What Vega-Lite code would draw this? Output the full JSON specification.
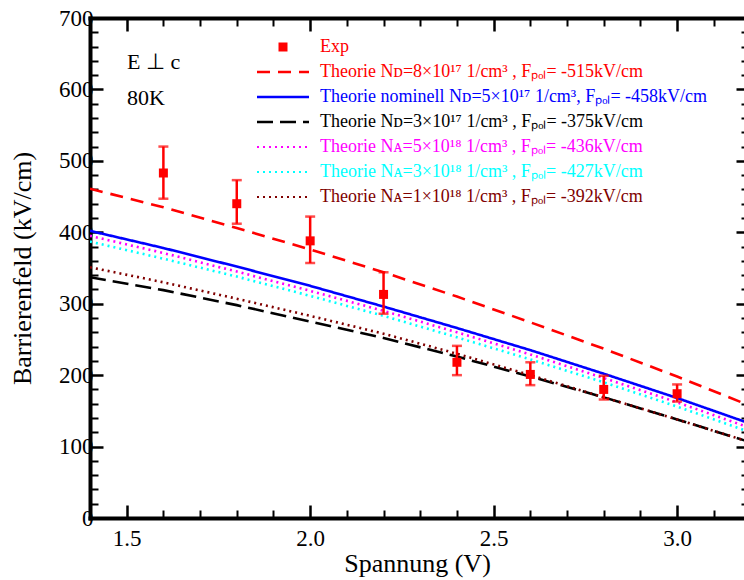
{
  "$schema": "https://vega.github.io/schema/vega-lite/v6.json",
  "width": 654,
  "height": 500,
  "autosize": {"type": "none"},
  "padding": {"left": 90, "top": 18, "right": 0, "bottom": 62},
  "background": "white",
  "config": {
    "view": {"stroke": null},
    "axis": {
      "grid": false,
      "domainColor": "black",
      "domainWidth": 4,
      "domainCap": "square",
      "tickColor": "black",
      "tickWidth": 2.5,
      "labelFont": "Liberation Serif",
      "labelFontSize": 23,
      "labelColor": "black",
      "titleFont": "Liberation Serif",
      "titleFontSize": 26,
      "titleFontWeight": "normal",
      "titleColor": "black"
    },
    "legend": {
      "labelFont": "Liberation Serif",
      "labelFontSize": 18,
      "symbolSize": 400,
      "symbolType": "M-2.6,0H2.6",
      "rowPadding": 7,
      "labelOffset": 28,
      "padding": 0,
      "labelLimit": 600
    }
  },
  "datasets": {
    "theory": [
      {"V": 1.4, "kV": 461, "s": "T1"}, {"V": 1.6, "kV": 435, "s": "T1"}, {"V": 1.8, "kV": 406, "s": "T1"}, {"V": 2.0, "kV": 376, "s": "T1"}, {"V": 2.2, "kV": 344, "s": "T1"},
      {"V": 2.4, "kV": 310, "s": "T1"}, {"V": 2.6, "kV": 274, "s": "T1"}, {"V": 2.8, "kV": 237, "s": "T1"}, {"V": 3.0, "kV": 198, "s": "T1"}, {"V": 3.2, "kV": 157, "s": "T1"},
      {"V": 1.4, "kV": 402, "s": "T2"}, {"V": 1.6, "kV": 378, "s": "T2"}, {"V": 1.8, "kV": 352, "s": "T2"}, {"V": 2.0, "kV": 325, "s": "T2"}, {"V": 2.2, "kV": 296, "s": "T2"},
      {"V": 2.4, "kV": 266, "s": "T2"}, {"V": 2.6, "kV": 235, "s": "T2"}, {"V": 2.8, "kV": 202, "s": "T2"}, {"V": 3.0, "kV": 168, "s": "T2"}, {"V": 3.2, "kV": 132, "s": "T2"},
      {"V": 1.4, "kV": 337, "s": "T3"}, {"V": 1.6, "kV": 319, "s": "T3"}, {"V": 1.8, "kV": 298, "s": "T3"}, {"V": 2.0, "kV": 275, "s": "T3"}, {"V": 2.2, "kV": 252, "s": "T3"},
      {"V": 2.4, "kV": 226, "s": "T3"}, {"V": 2.6, "kV": 198, "s": "T3"}, {"V": 2.8, "kV": 169, "s": "T3"}, {"V": 3.0, "kV": 138, "s": "T3"}, {"V": 3.2, "kV": 106, "s": "T3"},
      {"V": 1.4, "kV": 395, "s": "T4"}, {"V": 1.6, "kV": 371, "s": "T4"}, {"V": 1.8, "kV": 345, "s": "T4"}, {"V": 2.0, "kV": 318, "s": "T4"}, {"V": 2.2, "kV": 290, "s": "T4"},
      {"V": 2.4, "kV": 260, "s": "T4"}, {"V": 2.6, "kV": 229, "s": "T4"}, {"V": 2.8, "kV": 196, "s": "T4"}, {"V": 3.0, "kV": 162, "s": "T4"}, {"V": 3.2, "kV": 126, "s": "T4"},
      {"V": 1.4, "kV": 387, "s": "T5"}, {"V": 1.6, "kV": 363, "s": "T5"}, {"V": 1.8, "kV": 338, "s": "T5"}, {"V": 2.0, "kV": 311, "s": "T5"}, {"V": 2.2, "kV": 283, "s": "T5"},
      {"V": 2.4, "kV": 253, "s": "T5"}, {"V": 2.6, "kV": 222, "s": "T5"}, {"V": 2.8, "kV": 190, "s": "T5"}, {"V": 3.0, "kV": 156, "s": "T5"}, {"V": 3.2, "kV": 120, "s": "T5"},
      {"V": 1.4, "kV": 351, "s": "T6"}, {"V": 1.6, "kV": 330, "s": "T6"}, {"V": 1.8, "kV": 307, "s": "T6"}, {"V": 2.0, "kV": 283, "s": "T6"}, {"V": 2.2, "kV": 258, "s": "T6"},
      {"V": 2.4, "kV": 230, "s": "T6"}, {"V": 2.6, "kV": 200, "s": "T6"}, {"V": 2.8, "kV": 169, "s": "T6"}, {"V": 3.0, "kV": 138, "s": "T6"}, {"V": 3.2, "kV": 106, "s": "T6"}
    ],
    "exp": [
      {"V": 1.6, "kV": 483, "lo": 447, "hi": 520, "s": "Exp"},
      {"V": 1.8, "kV": 440, "lo": 412, "hi": 473, "s": "Exp"},
      {"V": 2.0, "kV": 388, "lo": 357, "hi": 422, "s": "Exp"},
      {"V": 2.2, "kV": 313, "lo": 286, "hi": 344, "s": "Exp"},
      {"V": 2.4, "kV": 218, "lo": 200, "hi": 241, "s": "Exp"},
      {"V": 2.6, "kV": 201, "lo": 186, "hi": 218, "s": "Exp"},
      {"V": 2.8, "kV": 180, "lo": 166, "hi": 199, "s": "Exp"},
      {"V": 3.0, "kV": 174, "lo": 163, "hi": 187, "s": "Exp"}
    ]
  },
  "resolve": {"axis": {"x": "independent", "y": "independent"}},
  "layer": [
    {
      "data": {"name": "theory"},
      "mark": {"type": "line", "clip": true},
      "encoding": {
        "x": {"field": "V", "type": "quantitative",
          "scale": {"domain": [1.4, 3.1823], "nice": false, "zero": false},
          "axis": {"orient": "bottom", "values": [1.5, 2.0, 2.5, 3.0], "format": ".1f", "tickSize": -13, "labelPadding": 22, "title": "Spannung (V)", "titlePadding": 0}},
        "y": {"field": "kV", "type": "quantitative",
          "scale": {"domain": [0, 700], "nice": false, "zero": false},
          "axis": {"orient": "left", "values": [0, 100, 200, 300, 400, 500, 600, 700], "tickSize": -13, "labelPadding": 10, "title": "Barrierenfeld (kV/cm)", "titlePadding": 23}},
        "color": {"field": "s", "type": "nominal",
          "scale": {"domain": ["Exp", "T1", "T2", "T3", "T4", "T5", "T6"], "range": ["#ff0000", "#ff0000", "#0000ff", "#000000", "#ff00ff", "#00ffff", "#800000"]},
          "legend": {
            "title": null,
            "orient": "none",
            "legendX": 184,
            "legendY": 20,
            "labelExpr": "{'Exp': 'Exp', 'T1': 'Theorie Nᴅ=8×10¹⁷ 1/cm³ , Fₚₒₗ= -515kV/cm', 'T2': 'Theorie nominell Nᴅ=5×10¹⁷ 1/cm³, Fₚₒₗ= -458kV/cm', 'T3': 'Theorie Nᴅ=3×10¹⁷ 1/cm³ , Fₚₒₗ= -375kV/cm', 'T4': 'Theorie Nᴀ=5×10¹⁸ 1/cm³ , Fₚₒₗ= -436kV/cm', 'T5': 'Theorie Nᴀ=3×10¹⁸ 1/cm³ , Fₚₒₗ= -427kV/cm', 'T6': 'Theorie Nᴀ=1×10¹⁸ 1/cm³ , Fₚₒₗ= -392kV/cm'}[datum.value]",
            "encode": {
              "labels": {"update": {"fill": {"scale": "color", "field": "value"}}},
              "symbols": {"update": {
                "shape": {"signal": "datum.value == 'Exp' ? 'M-0.45,-0.45H0.45V0.45H-0.45Z' : 'M-2.6,0H2.6'"},
                "fill": {"signal": "datum.value == 'Exp' ? '#ff0000' : 'transparent'"},
                "stroke": {"scale": "color", "field": "value"},
                "strokeWidth": {"signal": "datum.value == 'Exp' ? 0 : (datum.value == 'T4' || datum.value == 'T5' || datum.value == 'T6') ? 2.2 : 2.6"},
                "strokeDash": {"signal": "datum.value == 'T1' ? [13, 8] : datum.value == 'T3' ? [16, 7] : (datum.value == 'T2' || datum.value == 'Exp') ? [1, 0] : [2, 4]"},
                "opacity": {"value": 1}
              }}
            }
          }},
        "strokeDash": {"field": "s", "type": "nominal",
          "scale": {"domain": ["T1", "T2", "T3", "T4", "T5", "T6"], "range": [[13, 8], [1, 0], [16, 7], [2, 4], [2, 4], [2, 4]]},
          "legend": null},
        "strokeWidth": {"field": "s", "type": "nominal",
          "scale": {"domain": ["T1", "T2", "T3", "T4", "T5", "T6"], "range": [2.6, 2.6, 2.6, 2.2, 2.2, 2.2]},
          "legend": null}
      }
    },
    {
      "data": {"name": "exp"},
      "mark": {"type": "rule", "color": "#ff0000", "strokeWidth": 2.5},
      "encoding": {
        "x": {"field": "V", "type": "quantitative",
          "scale": {"domain": [1.4, 3.1823], "nice": false, "zero": false},
          "axis": {"orient": "bottom", "values": [1.6, 1.7, 1.8, 1.9, 2.1, 2.2, 2.3, 2.4, 2.6, 2.7, 2.8, 2.9, 3.1], "tickSize": -8, "tickWidth": 2, "labels": false, "domain": false, "title": null}},
        "y": {"field": "lo", "type": "quantitative",
          "scale": {"domain": [0, 700], "nice": false, "zero": false},
          "axis": {"orient": "left", "values": [20, 40, 60, 80, 120, 140, 160, 180, 220, 240, 260, 280, 320, 340, 360, 380, 420, 440, 460, 480, 520, 540, 560, 580, 620, 640, 660, 680], "tickSize": -8, "tickWidth": 2, "labels": false, "domain": false, "title": null}},
        "y2": {"field": "hi"}
      }
    },
    {
      "data": {"name": "exp"},
      "mark": {"type": "tick", "orient": "horizontal", "color": "#ff0000", "size": 10, "thickness": 2.5},
      "encoding": {
        "x": {"field": "V", "type": "quantitative",
          "scale": {"domain": [1.4, 3.1823], "nice": false, "zero": false},
          "axis": {"orient": "top", "values": [1.5, 2.0, 2.5, 3.0], "tickSize": -13, "labels": false, "domain": true, "title": null}},
        "y": {"field": "lo", "type": "quantitative",
          "scale": {"domain": [0, 700], "nice": false, "zero": false},
          "axis": {"orient": "right", "offset": 5, "values": [0, 100, 200, 300, 400, 500, 600, 700], "tickSize": -13, "labels": false, "domain": false, "title": null}}
      }
    },
    {
      "data": {"name": "exp"},
      "mark": {"type": "tick", "orient": "horizontal", "color": "#ff0000", "size": 10, "thickness": 2.5},
      "encoding": {
        "x": {"field": "V", "type": "quantitative",
          "scale": {"domain": [1.4, 3.1823], "nice": false, "zero": false},
          "axis": {"orient": "top", "values": [1.6, 1.7, 1.8, 1.9, 2.1, 2.2, 2.3, 2.4, 2.6, 2.7, 2.8, 2.9, 3.1], "tickSize": -8, "tickWidth": 2, "labels": false, "domain": false, "title": null}},
        "y": {"field": "hi", "type": "quantitative",
          "scale": {"domain": [0, 700], "nice": false, "zero": false},
          "axis": {"orient": "right", "offset": 5, "values": [20, 40, 60, 80, 120, 140, 160, 180, 220, 240, 260, 280, 320, 340, 360, 380, 420, 440, 460, 480, 520, 540, 560, 580, 620, 640, 660, 680], "tickSize": -8, "tickWidth": 2, "labels": false, "domain": false, "title": null}}
      }
    },
    {
      "data": {"name": "exp"},
      "mark": {"type": "point", "shape": "square", "filled": true, "size": 81, "opacity": 1},
      "encoding": {
        "x": {"field": "V", "type": "quantitative", "scale": {"domain": [1.4, 3.1823], "nice": false, "zero": false}, "axis": null},
        "y": {"field": "kV", "type": "quantitative", "scale": {"domain": [0, 700], "nice": false, "zero": false}, "axis": null},
        "color": {"field": "s", "type": "nominal", "scale": {"domain": ["Exp", "T1", "T2", "T3", "T4", "T5", "T6"], "range": ["#ff0000", "#ff0000", "#0000ff", "#000000", "#ff00ff", "#00ffff", "#800000"]}}
      }
    },
    {
      "data": {"values": [{"t": "E ⊥ c"}]},
      "mark": {"type": "text", "align": "left", "baseline": "middle", "font": "Liberation Serif", "fontSize": 22, "color": "black"},
      "encoding": {
        "x": {"datum": 1.5008, "type": "quantitative", "scale": {"domain": [1.4, 3.1823], "nice": false, "zero": false}, "axis": null},
        "y": {"datum": 638, "type": "quantitative", "scale": {"domain": [0, 700], "nice": false, "zero": false}, "axis": null},
        "text": {"field": "t"}
      }
    },
    {
      "data": {"values": [{"t": "80K"}]},
      "mark": {"type": "text", "align": "left", "baseline": "middle", "font": "Liberation Serif", "fontSize": 22, "color": "black"},
      "encoding": {
        "x": {"datum": 1.5008, "type": "quantitative", "scale": {"domain": [1.4, 3.1823], "nice": false, "zero": false}, "axis": null},
        "y": {"datum": 588, "type": "quantitative", "scale": {"domain": [0, 700], "nice": false, "zero": false}, "axis": null},
        "text": {"field": "t"}
      }
    }
  ]
}
